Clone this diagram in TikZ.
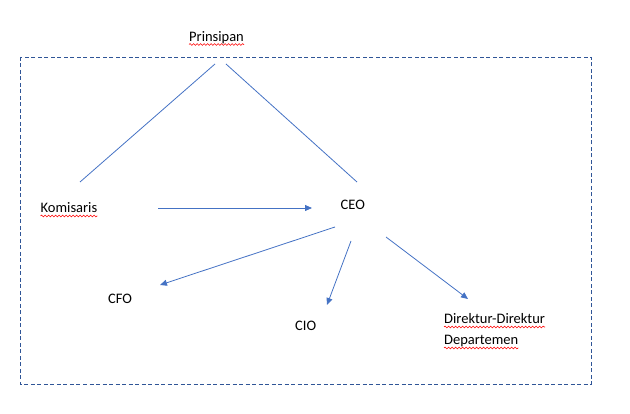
\documentclass[tikz,border=0pt]{standalone}
\usepackage{fontspec}
\setmainfont{Carlito}
\usetikzlibrary{arrows.meta,positioning,decorations.pathmorphing}
\definecolor{linkblue}{HTML}{4472C4}
\definecolor{boxblue}{HTML}{2F5597}

\begin{document}
\begin{tikzpicture}[x=1pt, y=-1pt,
		word/.style = {anchor=base west, inner sep=0pt, font=\fontsize{14.5}{21}\selectfont},
		link/.style = {draw=linkblue, line width=0.8pt},
		arrow/.style = {link, -{Triangle[length=7pt,width=6pt]}},
		wavy/.style = {draw=red, line width=0.6pt, decorate,
			decoration={snake, amplitude=0.9pt, segment length=3.5pt}}]
		\useasboundingbox (0,0) rectangle (630,414);
		\draw[boxblue, line width=0.9pt, dash pattern=on 4pt off 2.5pt] (20,57) rectangle (591,384);
		% labels
		\node[word] (prinsipan) at (189,41.5) {Prinsipan};
		\node[word] (komisaris) at (40.5,213) {Komisaris};
		\node[word] (ceo) at (340.5,210) {CEO};
		\node[word] (cfo) at (108,304) {CFO};
		\node[word] (cio) at (295,331) {CIO};
		\node[word] (dir) at (444,324) {Direktur-Direktur};
		\node[word] (dept) at (444,345) {Departemen};
		% spelling marks
		\draw[wavy] ([yshift=-3pt]prinsipan.base west) -- ([yshift=-3pt]prinsipan.base east);
		\draw[wavy] ([yshift=-3pt]komisaris.base west) -- ([yshift=-3pt]komisaris.base east);
		\draw[wavy] ([yshift=-3pt]dir.base west) -- ([yshift=-3pt]dir.base east);
		\draw[wavy] ([yshift=-3pt]dept.base west) -- ([yshift=-3pt]dept.base east);
		% line ends
		\coordinate (prin-l) at (215,64);
		\coordinate (prin-r) at (226,64);
		\coordinate (kom-top) at (80,182);
		\coordinate (ceo-top) at (357,182);
		\coordinate (kom-out) at (158,208);
		\coordinate (ceo-in) at (312,208);
		\coordinate (ceo-cfo) at (335,227);
		\coordinate (cfo-in) at (160,285);
		\coordinate (ceo-cio) at (351,241);
		\coordinate (cio-in) at (327,305);
		\coordinate (ceo-dir) at (386,237);
		\coordinate (dir-in) at (468,299);
		\draw[link] (prin-l) -- (kom-top);
		\draw[link] (prin-r) -- (ceo-top);
		\draw[arrow] (kom-out) -- (ceo-in);
		\draw[arrow] (ceo-cfo) -- (cfo-in);
		\draw[arrow] (ceo-cio) -- (cio-in);
		\draw[arrow] (ceo-dir) -- (dir-in);
	\end{tikzpicture}
\end{document}
